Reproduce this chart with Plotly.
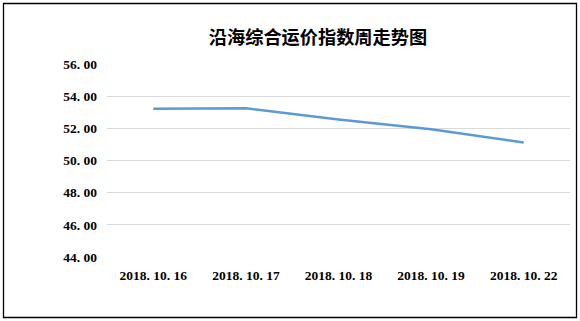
import plotly.graph_objects as go

dates = ["2018.10.16", "2018.10.17", "2018.10.18", "2018.10.19", "2018.10.22"]
values = [53.22, 53.25, 52.55, 51.95, 51.12]
y_ticks = [44, 46, 48, 50, 52, 54, 56]
title = "沿海综合运价指数周走势图"

W, H = 580, 321
L, R, T, B = 107, 10, 64, 64
pw, ph = W - L - R, H - T - B

def px_x(x):
    return (x - L) / pw

def px_y(y):
    return (H - B - y) / ph

fig = go.Figure()
fig.add_trace(go.Scatter(x=dates, y=values, mode="lines",
                         line=dict(color="#5B9BD5", width=2.5), showlegend=False))

tick_font = dict(family="Liberation Serif", size=13.5, color="black")

fig.update_layout(
    width=W, height=H,
    margin=dict(l=L, r=R, t=T, b=B, autoexpand=False),
    paper_bgcolor="white", plot_bgcolor="white",
    title=dict(text="<b>" + title + "</b>", x=px_x(318), xref="paper", xanchor="center",
               y=1 - 38 / H, yanchor="middle",
               font=dict(family="Noto Sans CJK SC", size=18.2, color="black")),
    xaxis=dict(type="category", range=[-0.5, 4.5], showgrid=False, showline=False,
               ticks="", automargin=False, ticklabelstandoff=8,
               tickvals=dates, ticktext=["<b>" + d.replace(".", ". ") + "</b>" for d in dates],
               tickfont=tick_font),
    yaxis=dict(range=[44, 56], tickvals=y_ticks,
               ticktext=["<b>" + f"{v:.2f}".replace(".", ". ") + "</b>" for v in y_ticks],
               showgrid=True, gridcolor="#D9D9D9", gridwidth=1,
               zeroline=False, showline=False, ticks="", automargin=False,
               ticklabelstandoff=9, tickfont=tick_font),
    shapes=[dict(type="rect", xref="paper", yref="paper",
                 x0=px_x(3.5), x1=px_x(576.5), y0=px_y(317.5), y1=px_y(3.5),
                 line=dict(color="black", width=1.3), fillcolor="rgba(0,0,0,0)")],
)

fig.write_html("out.html")
